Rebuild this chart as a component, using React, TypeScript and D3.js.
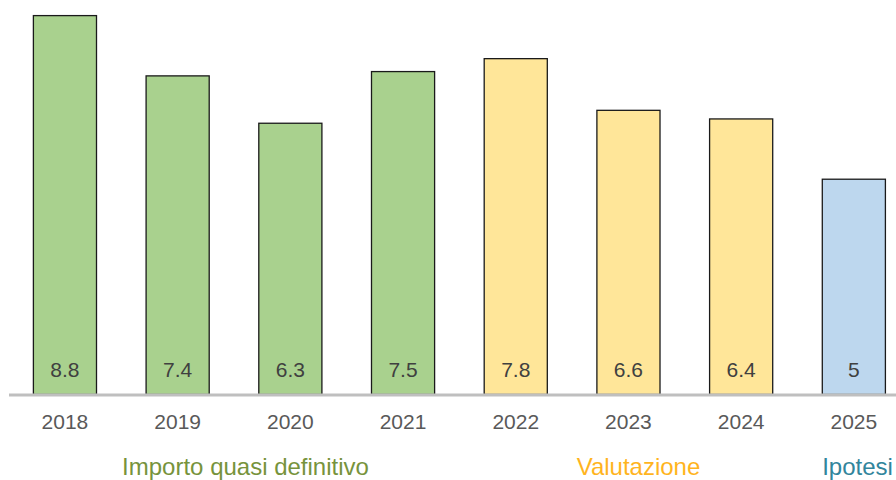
import React from "react";
import * as d3 from "d3";

const years = ["2018", "2019", "2020", "2021", "2022", "2023", "2024", "2025"];
const values = [8.8, 7.4, 6.3, 7.5, 7.8, 6.6, 6.4, 5];
const groups = ["def", "def", "def", "def", "val", "val", "val", "ipo"];
const groupLabels = [
  { key: "def", text: "Importo quasi definitivo" },
  { key: "val", text: "Valutazione" },
  { key: "ipo", text: "Ipotesi" },
];
const groupLabelX: Record<string, number> = { def: 245.5, val: 638.5, ipo: 857.5 };

const fills: Record<string, string> = { def: "#A9D18E", val: "#FFE699", ipo: "#BDD7EE" };
const textColors: Record<string, string> = { def: "#77933C", val: "#FFB41E", ipo: "#31859C" };

const W = 896;
const H = 480;
const FONT = "'Liberation Sans', Arial, sans-serif";

export default function App() {
  const x = d3.scaleBand<string>().domain(years).range([8.6, 910.2]).paddingInner(0.44).paddingOuter(0.22);
  const baseY = 394.5;
  const y = d3.scaleLinear().domain([0, 8.8]).range([baseY, 15.6]);
  return (
    <svg width={W} height={H} style={{ position: "absolute", left: 0, top: 0, background: "#fff" }}>
      {years.map((yr, i) => (
        <rect
          key={yr}
          x={x(yr)}
          y={y(values[i])}
          width={x.bandwidth()}
          height={baseY - y(values[i])}
          fill={fills[groups[i]]}
          stroke="#1a1a1a"
          strokeWidth={1.3}
        />
      ))}
      <line x1={9} x2={W} y1={baseY + 0.5} y2={baseY + 0.5} stroke="#BFBFBF" strokeWidth={3} />
      {years.map((yr, i) => (
        <text
          key={"v" + yr}
          x={(x(yr) as number) + x.bandwidth() / 2}
          y={377}
          textAnchor="middle"
          fontFamily={FONT}
          fontSize={21}
          fill="#404040"
        >
          {values[i]}
        </text>
      ))}
      {years.map((yr) => (
        <text
          key={"t" + yr}
          x={(x(yr) as number) + x.bandwidth() / 2}
          y={428.5}
          textAnchor="middle"
          fontFamily={FONT}
          fontSize={21}
          fill="#595959"
        >
          {yr}
        </text>
      ))}
      {groupLabels.map((g) => (
        <text
          key={g.key}
          x={groupLabelX[g.key]}
          y={474.5}
          textAnchor="middle"
          fontFamily={FONT}
          fontSize={24}
          fill={textColors[g.key]}
        >
          {g.text}
        </text>
      ))}
    </svg>
  );
}
